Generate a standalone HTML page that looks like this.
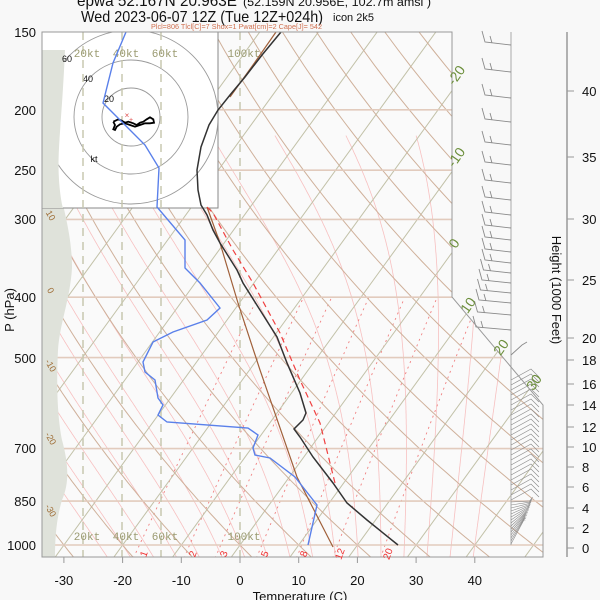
<!DOCTYPE html>
<html><head><meta charset="utf-8">
<style>
html,body{margin:0;padding:0;background:#f8f8f8;}
svg{display:block;font-family:"Liberation Sans",sans-serif;}
</style></head>
<body>
<svg id="s" width="600" height="600" viewBox="0 0 600 600" xmlns="http://www.w3.org/2000/svg">
<defs>
<clipPath id="pc"><polygon points="42,32 452,32 452,297 543,405 543,557 42,557"/></clipPath>
<clipPath id="hc"><rect x="42" y="32" width="176" height="176"/></clipPath>
</defs>
<rect x="0" y="0" width="600" height="600" fill="#f8f8f8"/>
<g id="grid" clip-path="url(#pc)"></g>
<path d="M42,50 L65,50 C62,120 57,150 59,180 C61,205 72,230 72,268 C70,300 60,322 58,350 C56,390 58,420 62,440 C68,462 70,482 62,500 C56,520 55,540 55,557 L42,557 Z" fill="#dfe2da"/>
<g id="hodo"></g>
<g id="data"></g>
<polygon points="42,32 452,32 452,297 543,405 543,557 42,557" fill="none" stroke="#999" stroke-width="1"/>
<g id="axes" font-size="13" fill="#111"></g>
<text x="77" y="6" font-size="16" fill="#111" textLength="160" lengthAdjust="spacingAndGlyphs">epwa 52.167N 20.963E</text>
<text x="243" y="6" font-size="11.5" fill="#111" textLength="188" lengthAdjust="spacingAndGlyphs">(52.159N 20.956E, 102.7m amsl )</text>
<text x="81" y="22" font-size="16" fill="#111" textLength="242" lengthAdjust="spacingAndGlyphs">Wed 2023-06-07 12Z (Tue 12Z+024h)</text>
<text x="333" y="21" font-size="11" fill="#111">icon 2k5</text>
<text x="151" y="29" font-size="7.5" fill="#d07050" textLength="171" lengthAdjust="spacingAndGlyphs">Plcl=806 Tlcl[C]=7 Shox=1 Pwat[cm]=2 Cape[J]= 542</text>
</svg>
<script>
(function(){
var NS="http://www.w3.org/2000/svg";
function Y(p){return 545-270.4*Math.log(1000/p);}
function X(T,p){return 240+5.87*T+0.725*(545-Y(p));}
function el(parent,tag,attrs,text){var e=document.createElementNS(NS,tag);for(var k in attrs)e.setAttribute(k,attrs[k]);if(text!==undefined)e.textContent=text;parent.appendChild(e);return e;}
function pl(parent,pts,attrs){var s=pts.map(function(a){return a[0].toFixed(1)+","+a[1].toFixed(1);}).join(" ");attrs.points=s;attrs.fill="none";return el(parent,"polyline",attrs);}
var g=document.getElementById("grid");
el(g,"rect",{x:42,y:32,width:501,height:525,fill:"#fafafa"});
function es(T){return 6.112*Math.exp(17.67*T/(T+243.5));}
function dTdp(T,p){var Tk=T+273.15,e=es(T),rs=0.622*e/(p-e);return (287*Tk+2.5e6*rs)/(p*(1004+2.5e6*2.5e6*rs*0.622/(287*Tk*Tk)));}
for(var T0=-24;T0<=40;T0+=4){
 var pts=[],T=T0,p;
 var down=[];T=T0;for(p=1000;p<=1050;p+=2){down.push([X(T,p),Y(p)]);T+=dTdp(T,p)*2;}
 T=T0;for(p=1000;p>=220;p-=2){pts.push([X(T,p),Y(p)]);T-=dTdp(T,p)*2;}
 pts=down.reverse().concat(pts);
 pl(g,pts,{stroke:"#f7c0c0","stroke-width":0.8});
}
var ws=[1,2,3,5,8,12,20];
ws.forEach(function(w){var pts=[];for(var p=1050;p>=400;p-=10){var e=w*p/(622+w),l=Math.log(e/6.112),Td=243.5*l/(17.67-l);pts.push([X(Td,p),Y(p)]);}
 pl(g,pts,{stroke:"#f08080","stroke-width":0.9,"stroke-dasharray":"2,4"});});
for(var T=-130;T<=50;T+=10){pl(g,[[X(T,1060),Y(1060)],[X(T,140),Y(140)]],{stroke:"#c2c1a8","stroke-width":1});}
for(var th=-60;th<=220;th+=10){var pts=[];for(var p=1060;p>=140;p-=10){var T=(th+273.15)*Math.pow(p/1000,0.2857)-273.15;pts.push([X(T,p),Y(p)]);}pl(g,pts,{stroke:"#cfb09a","stroke-width":1});}
[200,250,300,400,500,700,850,1000].forEach(function(p){el(g,"line",{x1:42,x2:543,y1:Y(p),y2:Y(p),stroke:"#e2cbbd","stroke-width":1.6});});
var h=document.getElementById("hodo");
el(h,"rect",{x:42,y:32,width:176,height:176,fill:"#ffffff",stroke:"#888","stroke-width":1});
var hg=el(h,"g",{"clip-path":"url(#hc)"});
[29,57,87].forEach(function(r){el(hg,"circle",{cx:131,cy:117,r:r,fill:"none",stroke:"#999","stroke-width":0.9});});
el(h,"path",{d:"M42,50 L65,50 C62,120 57,150 59,180 C60,195 62,205 63,208 L42,208 Z",fill:"#dfe2da"});
el(h,"text",{x:67,y:62,"font-size":9,"text-anchor":"middle",fill:"#111"},"60");
el(h,"text",{x:88,y:82,"font-size":9,"text-anchor":"middle",fill:"#111"},"40");
el(h,"text",{x:109,y:102,"font-size":9,"text-anchor":"middle",fill:"#111"},"20");
el(h,"text",{x:94,y:162,"font-size":9,"text-anchor":"middle",fill:"#111"},"kt");
[[83,"20kt"],[122,"40kt"],[161,"60kt"],[240,"100kt"]].forEach(function(a){
 el(h,"line",{x1:a[0],x2:a[0],y1:32,y2:557,stroke:"#c8c8b0","stroke-width":1.5,"stroke-dasharray":"8,6"});
 el(h,"text",{x:a[0]+4,y:57,"font-size":11,"font-family":"Liberation Mono, monospace","text-anchor":"middle",fill:"#9a9a70"},a[1]);
 el(h,"text",{x:a[0]+4,y:540,"font-size":11,"font-family":"Liberation Mono, monospace","text-anchor":"middle",fill:"#9a9a70"},a[1]);
});
var hz=[[220,125],[235,118],[245,122],[255,128],[265,125],[280,130],[290,135],[300,128],[310,125],[320,118],[330,112],[340,118],[342,128],[330,130],[315,130],[300,135],[285,140],[270,135],[255,130],[240,133],[230,140],[225,150],[220,148],[225,135],[220,125]].map(function(a){return [a[0]/3+40,a[1]/3+80];});
pl(h,hz,{stroke:"#000","stroke-width":1.8});
el(h,"text",{x:127,y:118,"font-size":8,"text-anchor":"middle",fill:"#e05050"},"×");
el(h,"text",{x:131,y:122,"font-size":7,"text-anchor":"middle",fill:"#e05050"},"+");
[["-20",460,78],["-10",460,160],["0",458,246],["10",472,308],["20",505,350],["30",538,385]].forEach(function(a){
 el(g.parentNode,"text",{x:a[1],y:a[2],"font-size":14,fill:"#6b8e3a","text-anchor":"middle",transform:"rotate(-55 "+a[1]+" "+a[2]+")"},a[0]);});
[["10",48,217],["0",48,292],["-10",48,367],["-20",48,440],["-30",48,512]].forEach(function(a){
 el(g.parentNode,"text",{x:a[1],y:a[2],"font-size":9,fill:"#a0703a","text-anchor":"middle",transform:"rotate(60 "+a[1]+" "+a[2]+")"},a[0]);});
[["1",147],["2",196],["3",227],["5",268],["8",307],["12",343],["20",391]].forEach(function(a){
 el(g.parentNode,"text",{x:a[1],y:555,"font-size":10,fill:"#f03030","text-anchor":"middle",transform:"rotate(-70 "+a[1]+" 555)"},a[0]);});
var d=document.getElementById("data");
pl(d,[[333,547],[297,477],[260,370],[238,303],[220,243],[207,207]],{stroke:"#a0603a","stroke-width":1.2});
pl(d,[[230,97],[253,65],[276,32]],{stroke:"#a0603a","stroke-width":1.2});
pl(d,[[335,483],[320,423],[300,380],[280,333],[253,283],[233,250],[213,213],[207,207]],{stroke:"#f04040","stroke-width":1.2,"stroke-dasharray":"6,4"});
pl(d,[[126,32],[113,63],[103,103],[145,145],[159,168],[157,207],[185,240],[185,268],[200,283],[220,308],[207,320],[173,332],[153,342],[143,362],[145,372],[155,380],[158,398],[163,405],[158,415],[167,422],[248,428],[258,435],[253,448],[255,455],[270,458],[295,477],[317,505],[308,545]],{stroke:"#5a80ea","stroke-width":1.4});
pl(d,[[281,32],[262,55],[245,77],[230,95],[218,110],[209,125],[201,147],[197,170],[198,190],[201,205],[207,215],[213,230],[220,243],[237,270],[243,283],[260,310],[277,337],[287,363],[300,393],[306,413],[303,420],[294,429],[300,437],[313,457],[333,483],[347,503],[367,520],[398,545]],{stroke:"#333","stroke-width":1.5});
var bc="#8a8a8a";
el(d,"line",{x1:511,x2:511,y1:32,y2:545,stroke:"#aaa","stroke-width":1});
[45,72,98,122,145,165,183,200,215,228,240,252,263,273,283,293,303,315,330].forEach(function(y,i){
 var L=26+(i>12?(i-12)*1.5:0);
 pl(d,[[511,y],[511-L,y-3],[511-L-3,y-14]],{stroke:bc,"stroke-width":0.9});
 pl(d,[[511-L+7,y-2],[511-L+5,y-9]],{stroke:bc,"stroke-width":0.9});
});
pl(d,[[511,355],[522,345],[527,342]],{stroke:bc,"stroke-width":0.9});
for(var y=380;y<=500;y+=5){pl(d,[[511,y],[531,y-11],[539,y-3]],{stroke:bc,"stroke-width":0.7});}
for(var y=502;y<=545;y+=3){var t=(y-500)/45;pl(d,[[511,y],[530-t*6,500+t*20],[533-t*8,496+t*25]],{stroke:bc,"stroke-width":0.6});}
var ax=document.getElementById("axes");
[[150,32],[200,110],[250,170],[300,219],[400,297],[500,358],[700,448],[850,501],[1000,545]].forEach(function(a){
 el(ax,"text",{x:36,y:a[1]+5,"text-anchor":"end"},String(a[0]));});
el(ax,"line",{x1:42,x2:543,y1:557,y2:557,stroke:"#999"});
for(var T=-30;T<=40;T+=10){var x=240+5.87*T;el(ax,"line",{x1:x,x2:x,y1:557,y2:563,stroke:"#999"});el(ax,"text",{x:x,y:585,"text-anchor":"middle"},String(T));}
el(ax,"text",{x:300,y:601,"text-anchor":"middle"},"Temperature (C)");
el(ax,"text",{x:14,y:310,"text-anchor":"middle",transform:"rotate(-90 14 310)"},"P (hPa)");
el(ax,"text",{x:552,y:290,"text-anchor":"middle",transform:"rotate(90 552 290)"},"Height (1000 Feet)");
el(ax,"line",{x1:567,x2:567,y1:32,y2:557,stroke:"#999","stroke-width":1.5});
[[0,548],[2,528],[4,508],[6,487],[8,467],[10,447],[12,427],[14,405],[16,384],[18,360],[20,338],[25,280],[30,219],[35,157],[40,91]].forEach(function(a){
 el(ax,"line",{x1:567,x2:574,y1:a[1],y2:a[1],stroke:"#999"});
 el(ax,"text",{x:582,y:a[1]+5},String(a[0]));});
})();
</script>
</body></html>
